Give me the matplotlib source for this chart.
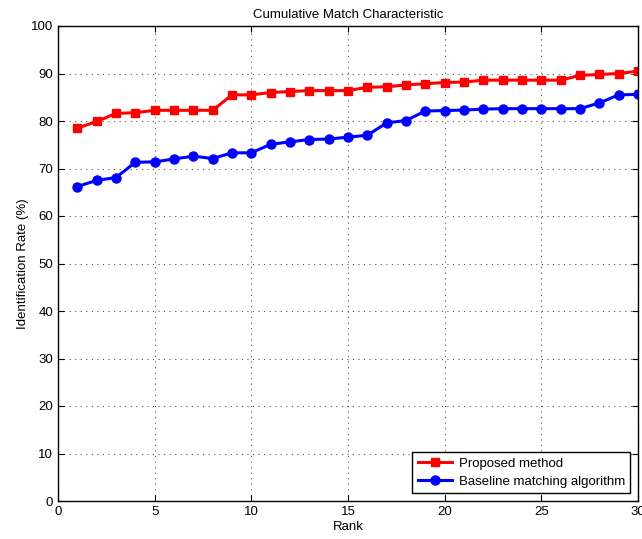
import matplotlib
matplotlib.use("Agg")
import matplotlib.pyplot as plt

plt.rcParams['font.family'] = ['Liberation Sans', 'DejaVu Sans']

rank = list(range(1, 31))
proposed = [78.5, 79.9, 81.6, 81.75, 82.25, 82.25, 82.25, 82.25, 85.5, 85.5,
            86.0, 86.2, 86.4, 86.4, 86.4, 87.1, 87.2, 87.6, 87.85, 88.1,
            88.2, 88.6, 88.6, 88.6, 88.6, 88.6, 89.6, 89.8, 90.0, 90.5]
baseline = [66.2, 67.5, 68.1, 71.3, 71.4, 72.0, 72.6, 72.1, 73.3, 73.3,
            75.1, 75.6, 76.1, 76.2, 76.6, 77.0, 79.6, 80.1, 82.1, 82.2,
            82.3, 82.5, 82.6, 82.6, 82.6, 82.6, 82.6, 83.8, 85.5, 85.6]
xticks = [0, 5, 10, 15, 20, 25, 30]
yticks = [0, 10, 20, 30, 40, 50, 60, 70, 80, 90, 100]

fig = plt.figure(figsize=(6.42, 5.39), dpi=100)
ax = fig.add_axes([58/642, 1 - 501/539, (638-58)/642, (501-26)/539])

ax.plot(rank, proposed, color='#ff0000', marker='s', markersize=5.5, linewidth=2.2,
        label='Proposed method')
ax.plot(rank, baseline, color='#0000ff', marker='o', markersize=6.5, linewidth=2.2,
        label='Baseline matching algorithm')

ax.set_xlim(0, 30)
ax.set_ylim(0, 100)
ax.set_xticks(xticks)
ax.set_yticks(yticks)
ax.grid(True, linestyle=(0, (1, 4)), color='#555555', linewidth=0.8)
ax.tick_params(direction='in', top=True, right=True, labelsize=9.5, length=4, width=0.8)
for s in ax.spines.values():
    s.set_linewidth(1.0)

ax.set_title('Cumulative Match Characteristic', fontsize=9.5, pad=6)
ax.set_xlabel('Rank', fontsize=9.5, labelpad=2)
ax.set_ylabel('Identification Rate (%)', fontsize=9.5, labelpad=1)

leg = ax.legend(loc='lower right', fontsize=9.5, fancybox=False, framealpha=1,
                edgecolor='black', borderaxespad=0.6, handlelength=2.6,
                borderpad=0.4, labelspacing=0.45, handletextpad=0.5)
leg.get_frame().set_linewidth(1.0)

fig.savefig('out.png', dpi=100)
